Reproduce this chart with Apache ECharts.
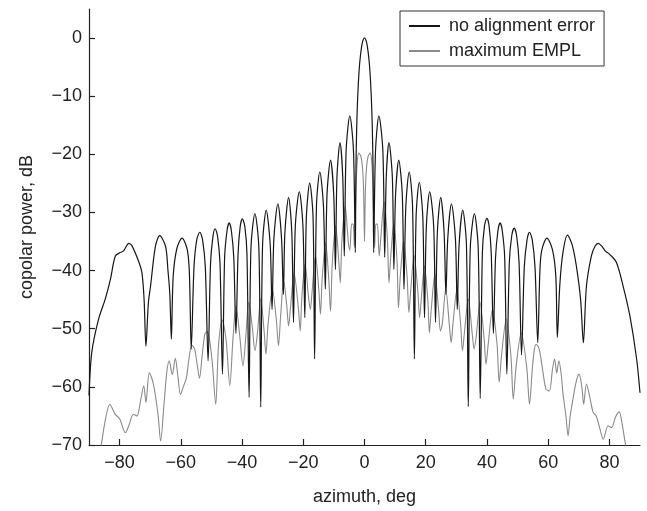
<!DOCTYPE html>
<html>
<head>
<meta charset="utf-8">
<script src="https://cdn.jsdelivr.net/npm/echarts@6/dist/echarts.min.js"></script>
<style>
html,body{margin:0;padding:0;background:#fff;}
#chart{width:647px;height:511px;}
</style>
</head>
<body>
<div id="chart"></div>
<script>
// Series names
const seriesNames = ['no alignment error', 'maximum EMPL'];

// Axis ticks
const xTicks = [-80, -60, -40, -20, 0, 20, 40, 60, 80];
const yTicks = [-70, -60, -50, -40, -30, -20, -10, 0];

// "no alignment error" : [azimuth deg, copolar power dB]
const noErrorPts = [
[-90,-61.5],[-89.1,-54.1],[-86.9,-48.4],[-84.7,-44.9],[-83,-41.5],[-81.4,-37.5],[-79.8,-36.9],[-78.7,-36.6],[-77,-35.3],[-76,-35.7],[-73.8,-38.4],[-72.7,-40.4],[-72,-45],[-71.4,-53],
[-70.6,-45.5],[-69.9,-42.7],[-68.3,-35.8],[-66.9,-34],[-65,-35.8],[-64.2,-40],[-63.6,-44],[-63.1,-51.8],
[-62.5,-41],[-61.3,-36.2],[-59.6,-34.4],[-57.9,-36.4],[-57.2,-40.5],[-56.6,-53.5],
[-55.7,-39.4],[-54.8,-34.7],[-53.8,-33.4],[-52.9,-34.7],[-52.0,-39.4],[-51.1,-55.5],
[-50.3,-38.8],[-49.5,-34.1],[-48.8,-32.8],[-48.0,-34.1],[-47.2,-38.8],[-46.4,-57.8],
[-45.7,-37.8],[-44.9,-33.1],[-44.2,-31.8],[-43.5,-33.1],[-42.7,-37.8],[-42.0,-50.8],
[-41.3,-37.1],[-40.6,-32.4],[-39.9,-31.1],[-39.1,-32.4],[-38.4,-37.1],[-37.7,-61.8],
[-37.1,-36.2],[-35.8,-30.2],[-34.5,-36.2],[-33.9,-63.5],
[-33.3,-35.6],[-32.1,-29.6],[-30.8,-35.6],[-30.2,-46.7],
[-29.6,-34.5],[-28.3,-28.5],[-27.1,-34.5],[-26.5,-44.1],
[-26.0,-33.4],[-24.8,-27.4],[-23.75,-33.4],[-23.2,-48.9],
[-22.6,-32.4],[-21.3,-26.4],[-20.1,-32.4],[-19.5,-48.1],
[-19.0,-30.9],[-17.9,-24.9],[-16.8,-30.9],[-16.3,-55.2],
[-15.7,-29],[-14.6,-23],[-13.4,-29],[-12.8,-43.2],
[-12.25,-27],[-11.1,-21],[-10.05,-27],[-9.5,-39.8],
[-9.0,-24],[-8.0,-18],[-7.1,-24],[-6.6,-37.5],
[-6.0,-19.4],[-4.8,-13.4],[-3.6,-19.4],[-3.0,-36.9],
[-2.85,-25.6],[-2.7,-19.2],[-2.4,-12.6],[-2.0,-7.7],[-1.5,-3.9],[-0.75,-0.9],[0,0],[0.75,-0.9],[1.5,-3.9],[2.0,-7.7],[2.4,-12.6],[2.7,-19.2],[2.85,-25.6],[3.0,-36.9],
[3.6,-19.4],[4.7,-13.4],[6.0,-19.4],[6.6,-37.7],
[7.1,-24],[8.0,-18],[9.1,-24],[9.6,-39.8],
[10.15,-27],[11.2,-21],[12.35,-27],[12.9,-43.2],
[13.5,-29],[14.6,-23],[15.7,-29],[16.3,-55.2],
[16.85,-30.8],[17.9,-24.8],[19.05,-30.8],[19.6,-48.1],
[20.2,-32.4],[21.3,-26.4],[22.6,-32.4],[23.2,-48.9],
[23.8,-33.4],[24.9,-27.4],[26.0,-33.4],[26.6,-44.1],
[27.2,-34.5],[28.4,-28.5],[29.7,-34.5],[30.3,-46.7],
[30.9,-35.6],[32.1,-29.6],[33.3,-35.6],[33.9,-63.4],
[34.55,-36.2],[35.9,-30.2],[37.15,-36.2],[37.8,-62],
[38.5,-37],[39.2,-32.3],[40.0,-31],[40.7,-32.3],[41.4,-37],[42.1,-50.8],
[42.8,-37.8],[43.6,-33.1],[44.3,-31.8],[45.0,-33.1],[45.8,-37.8],[46.5,-57.8],
[47.3,-38.7],[48.1,-34],[48.9,-32.7],[49.7,-34],[50.5,-38.7],[51.3,-54.5],
[52.2,-39.4],[53.1,-34.7],[53.9,-33.4],[54.8,-34.7],[55.7,-39.4],[56.6,-52.4],
[57.3,-40],[57.9,-36.5],[59.6,-34.4],[61.4,-36.4],[62.5,-41],[63.0,-51.5],
[63.8,-42.5],[64.8,-37],[66.3,-33.9],[67.8,-35.5],[69.2,-39.2],[70.6,-45],[71.5,-52.4],
[72.5,-42.7],[74.1,-37.5],[75.3,-35.8],[76.4,-35.3],[77.5,-35.8],[78.8,-36.7],[80.1,-37.2],[82.3,-38.6],[84.5,-42.7],[86.7,-47.8],[88.9,-55.2],[90,-61]
];

// "maximum EMPL" : [azimuth deg, copolar power dB]
const maxEmplPts = [
[-90,-79],[-87,-73],[-86,-70],[-84.6,-65.5],[-83.2,-63],[-82.3,-63.8],[-81.5,-64.7],[-80.0,-65.5],[-78.1,-67.9],[-77.0,-66.7],[-75.5,-64.7],[-74.3,-65],[-73.2,-62.5],[-72.1,-59.8],[-71.4,-62.7],[-70.3,-57.6],[-69.2,-59],[-68.3,-61.5],[-67.4,-65],[-66.6,-69.3],[-65.5,-63],[-64.6,-57.5],[-63.8,-55.5],[-62.8,-57.9],[-61.8,-55.1],[-61.0,-58],[-60.1,-61.3],[-59.2,-60],[-58.2,-58.5],[-57.3,-55],[-56.4,-52.8],[-55.5,-53.5],[-54.7,-56],[-53.9,-58.5],[-53.1,-55],[-52.2,-51],[-51.4,-50.5],[-50.6,-52],[-49.7,-56],[-48.6,-63],[-47.7,-53],[-46.5,-48.5],
[-45.2,-52],[-44.0,-59.8],[-43.0,-52],[-42.0,-46.1],[-40.8,-51],[-39.7,-56.4],[-38.8,-51.5],[-37.8,-45.5],[-36.6,-50],[-35.8,-53.8],[-35.0,-50.9],[-33.9,-44.9],[-32.8,-50.4],[-32.2,-54.4],[-31.5,-49.2],[-30.1,-43.2],[-28.8,-48.5],[-28.1,-52.9],[-27.4,-47.8],[-26.4,-41.8],[-25.4,-46],[-24.8,-49.5],[-24.2,-46.5],[-23.0,-40.5],[-21.6,-46.5],[-21.0,-50.4],[-20.5,-44.9],[-19.4,-38.9],[-18.3,-44.5],[-17.7,-46.7],[-17.1,-43.5],[-16.0,-37.5],[-14.9,-43.5],[-14.4,-47.5],[-13.8,-41.2],[-12.7,-35.2],[-11.7,-41.2],[-11.1,-47],[-10.5,-38.4],[-9.4,-32.4],[-8.4,-38.4],[-7.9,-42.1],[-7.4,-35],[-6.3,-29],[-5.3,-35],[-4.8,-36.5],
[-4.2,-32],[-3.7,-32],[-3.3,-36],[-3.0,-31],[-2.7,-25],[-2.4,-21.5],[-1.9,-19.8],[-1.2,-20.3],[-0.7,-22],[-0.3,-26],[0,-35],
[0.3,-26],[0.7,-22],[1.2,-20.3],[1.9,-19.8],[2.4,-21.5],[2.7,-25],[3.0,-31],[3.3,-36],[3.7,-32],[4.2,-32],[4.8,-37.5],
[5.35,-34.2],[6.4,-28.2],[7.45,-34.2],[8.0,-42.1],
[8.5,-38.1],[9.55,-32.1],[10.6,-38.1],[11.1,-46.4],
[11.7,-40.9],[12.8,-34.9],[13.9,-40.9],[14.5,-47.2],
[15.1,-43.4],[16.2,-37.4],[17.4,-43.4],[18.0,-48.1],
[18.5,-45.2],[19.6,-39.2],[20.7,-45.2],[21.2,-50.7],
[21.8,-46.7],[23.0,-40.7],[24.2,-46.7],[24.8,-50.4],
[25.4,-49.2],[26.55,-43.2],[27.7,-49.2],[28.3,-52.4],
[28.9,-49.2],[30.2,-43.2],[31.4,-49.2],[32.0,-53.8],
[32.6,-50.9],[33.9,-44.9],[35.2,-50.9],[35.8,-53.5],
[36.45,-51.5],[37.75,-45.5],[39.05,-51.5],[39.7,-56.1],
[40.4,-52.7],[41.8,-46.7],[43.3,-52.7],[44.0,-59.2],
[44.8,-54.4],[46.3,-48.4],[47.8,-54.4],[48.6,-62.1],
[49.5,-56.7],[51.2,-50.7],[53.0,-56.7],[53.9,-63],
[54.8,-57],[55.5,-53.5],[56.1,-52.7],[56.9,-53.2],[57.6,-55],[58.3,-57.5],[59.3,-60.4],[60.4,-60.7],[61.4,-57],[62.1,-55.2],[62.8,-57.6],[63.5,-55.5],[64.3,-58],[64.8,-61],[65.8,-65],[66.5,-68.4],[67.2,-65],[68.1,-62.1],[69.2,-59],[70.1,-57.8],[71.0,-60],[71.6,-63],[72.5,-59.5],[73.5,-61.5],[74.7,-64.4],[75.7,-65],[76.8,-67],[78,-69],[79.6,-66.7],[80.7,-67],[82.0,-65.2],[83.2,-64.3],[84.2,-66.5],[85.3,-70],[87,-74],[90,-79]
];

const FONT = 'Liberation Sans, Arial, Helvetica, sans-serif';
const minus = v => String(v).replace('-', '\u2212');

const chart = echarts.init(document.getElementById('chart'), null, {renderer: 'canvas'});
chart.setOption({
  animation: false,
  backgroundColor: '#fff',
  textStyle: {fontFamily: FONT},
  grid: {left: 89, right: 7, top: 9, bottom: 65, containLabel: false},
  legend: {
    data: seriesNames,
    orient: 'vertical',
    left: 400, top: 11,
    padding: [6, 9, 6, 8],
    itemWidth: 31, itemHeight: 14, itemGap: 7,
    backgroundColor: '#fff',
    borderColor: '#333', borderWidth: 1, borderRadius: 0,
    itemStyle: {opacity: 0},
    textStyle: {fontFamily: FONT, fontSize: 18, color: '#222', padding: [0, 0, 0, 4]}
  },
  xAxis: {
    type: 'value', min: -90, max: 90,
    name: 'azimuth, deg', nameLocation: 'middle', nameGap: 43,
    nameTextStyle: {fontFamily: FONT, fontSize: 18, color: '#222'},
    axisLine: {show: true, onZero: false, lineStyle: {color: '#222', width: 1.2}},
    axisTick: {show: true, inside: true, length: 6, customValues: xTicks, lineStyle: {color: '#222', width: 1.2}},
    axisLabel: {customValues: xTicks, margin: 9, fontFamily: FONT, fontSize: 18, color: '#222', formatter: minus},
    splitLine: {show: false}
  },
  yAxis: {
    type: 'value', min: -70, max: 5,
    name: 'copolar power, dB', nameLocation: 'middle', nameGap: 53, nameRotate: 90,
    nameTextStyle: {fontFamily: FONT, fontSize: 18, color: '#222'},
    axisLine: {show: true, onZero: false, lineStyle: {color: '#222', width: 1.2}},
    axisTick: {show: true, inside: true, length: 6, customValues: yTicks, lineStyle: {color: '#222', width: 1.2}},
    axisLabel: {customValues: yTicks, margin: 7, fontFamily: FONT, fontSize: 18, color: '#222', formatter: minus},
    splitLine: {show: false}
  },
  series: [
    {
      name: seriesNames[0], type: 'line', data: noErrorPts,
      symbol: 'none', smooth: 0.3, z: 3,
      lineStyle: {color: '#161616', width: 1.2},
      itemStyle: {color: '#161616'}
    },
    {
      name: seriesNames[1], type: 'line', data: maxEmplPts,
      symbol: 'none', smooth: 0.3, z: 2,
      lineStyle: {color: '#8a8a8a', width: 1.1},
      itemStyle: {color: '#8a8a8a'}
    }
  ]
});
</script>
</body>
</html>
